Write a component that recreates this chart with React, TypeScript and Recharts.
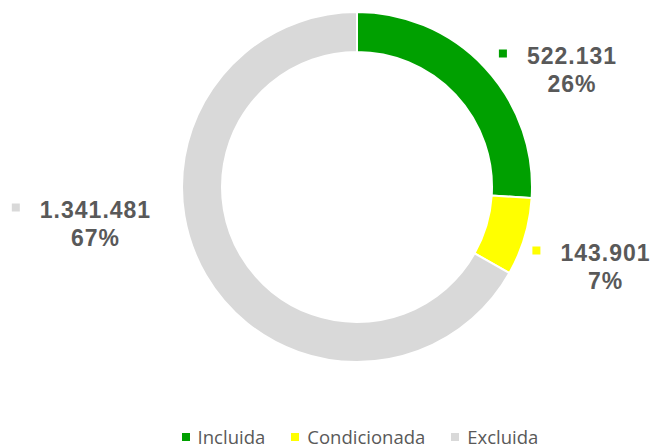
import React from 'react';
import { PieChart, Pie, Cell, Legend } from 'recharts';

const categories = ['Incluida', 'Condicionada', 'Excluida'];
const values = [522131, 143901, 1341481];
const valueLabels = ['522.131', '143.901', '1.341.481'];
const percentLabels = ['26%', '7%', '67%'];
const colors = ['#00A000', '#FFFF00', '#D9D9D9'];

// label block positions relative to the pie centre (number-line centre)
const labelPos = [
  { dx: 215, dy: -133.5 },
  { dx: 248.5, dy: 63.5 },
  { dx: -261.5, dy: 20.5 },
];

const data = categories.map((name, i) => ({ name, value: values[i] }));

const textColor = '#595959';
const labelFont = '"Liberation Sans", Arial, sans-serif';

const estWidth = (s: string) => {
  let w = 0;
  for (const ch of s) w += ch === '.' ? 7.4 : 13.8;
  return w;
};

const renderLabel = (props: any) => {
  const { cx, cy, index } = props;
  const p = labelPos[index];
  const x = cx + p.dx;
  const y = cy + p.dy;
  const num = valueLabels[index];
  const w = estWidth(num);
  const txt = { fill: textColor, fontFamily: labelFont, fontWeight: 'bold' as const, fontSize: 23, letterSpacing: 1 };
  return (
    <g key={`lbl-${index}`}>
      <rect x={x - w / 2 - 24 - 4} y={y - 4} width={8} height={8} fill={colors[index]} />
      <text x={x} y={y + 10.5} textAnchor="middle" {...txt}>
        {num}
      </text>
      <text x={x} y={y + 38} textAnchor="middle" {...txt}>
        {percentLabels[index]}
      </text>
    </g>
  );
};

const renderLegend = () => (
  <div style={{ display: 'flex', justifyContent: 'center', alignItems: 'center', fontFamily: '"Open Sans", sans-serif', fontSize: 18.5, color: textColor }}>
    {categories.map((c, i) => (
      <div key={c} style={{ display: 'flex', alignItems: 'center', marginRight: i < categories.length - 1 ? 26 : 0 }}>
        <span style={{ display: 'inline-block', width: 8, height: 8, background: colors[i], marginRight: 8 }} />
        <span>{c}</span>
      </div>
    ))}
  </div>
);

export default function App() {
  return (
    <div style={{ position: 'absolute', left: 0, top: 0, width: 650, height: 448, background: '#fff' }}>
      <PieChart width={650} height={448}>
        <Pie
          data={data}
          dataKey="value"
          nameKey="name"
          cx={352}
          cy={182}
          innerRadius={135}
          outerRadius={175}
          startAngle={90}
          endAngle={-270}
          stroke="#fff"
          strokeWidth={2}
          label={renderLabel}
          labelLine={false}
          isAnimationActive={false}
        >
          {data.map((d, i) => (
            <Cell key={d.name} fill={colors[i]} />
          ))}
        </Pie>
        <Legend content={renderLegend} wrapperStyle={{ left: 70, top: 424, width: 580 }} />
      </PieChart>
    </div>
  );
}
